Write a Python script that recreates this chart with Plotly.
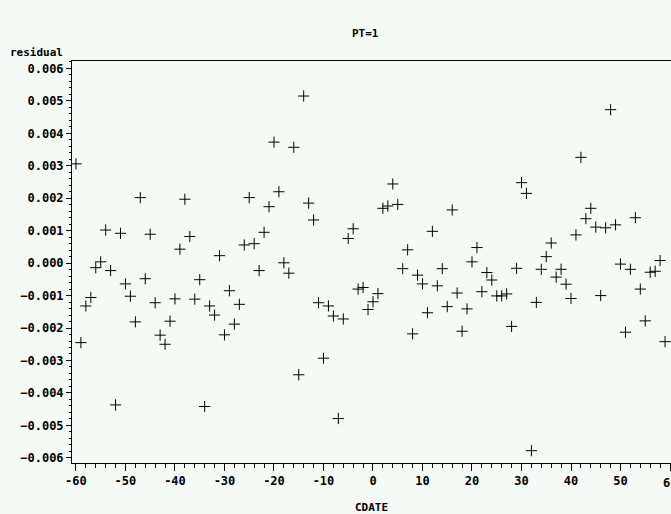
import plotly.graph_objects as go

cdate = list(range(-60, 60))
residual_e3 = [
    3.06, -2.45, -1.32, -1.06, -0.14, 0.04, 1.02, -0.23, -4.37, 0.92,
    -0.64, -1.02, -1.81, 2.02, -0.48, 0.89, -1.22, -2.22, -2.50, -1.79,
    -1.10, 0.43, 1.97, 0.82, -1.11, -0.51, -4.42, -1.32, -1.60, 0.23,
    -2.21, -0.85, -1.88, -1.27, 0.56, 2.02, 0.60, -0.23, 0.95, 1.74,
    3.73, 2.20, 0.01, -0.31, 3.57, -3.44, 5.15, 1.85, 1.33, -1.22,
    -2.93, -1.32, -1.63, -4.79, -1.72, 0.76, 1.06, -0.80, -0.75, -1.43,
    -1.19, -0.94, 1.69, 1.76, 2.44, 1.81, -0.17, 0.41, -2.18, -0.37,
    -0.64, -1.53, 0.98, -0.70, -0.17, -1.34, 1.64, -0.92, -2.10, -1.41,
    0.04, 0.48, -0.88, -0.29, -0.52, -1.01, -1.01, -0.95, -1.95, -0.16,
    2.48, 2.15, -5.78, -1.21, -0.19, 0.20, 0.62, -0.43, -0.19, -0.65,
    -1.09, 0.87, 3.26, 1.37, 1.69, 1.11, -1.00, 1.09, 4.73, 1.18,
    -0.03, -2.13, -0.19, 1.40, -0.80, -1.78, -0.28, -0.25, 0.08, -2.42,
]
residual = [v / 1000.0 for v in residual_e3]

x_ticks = [-60, -50, -40, -30, -20, -10, 0, 10, 20, 30, 40, 50, 60]
y_ticks = [-0.006, -0.005, -0.004, -0.003, -0.002, -0.001, 0.0,
           0.001, 0.002, 0.003, 0.004, 0.005, 0.006]

BG = "#F5FAF6"
FONT = "DejaVu Sans Mono"
L, R, T, B = 72, 0, 61, 51
W, H = 671, 514
pw, ph = W - L - R, H - T - B

fig = go.Figure()
fig.add_trace(go.Scatter(
    x=cdate, y=residual, mode="markers",
    marker=dict(symbol="cross-thin", size=8, color="black",
                line=dict(color="black", width=1)),
    showlegend=False,
))

tick_font = dict(family=FONT, size=12, color="black", weight="bold")

fig.update_layout(
    width=W, height=H,
    margin=dict(l=L, r=R, t=T, b=B),
    paper_bgcolor=BG, plot_bgcolor=BG,
    font=dict(family=FONT, size=11, color="black"),
    xaxis=dict(
        range=[-60.8, 60.2], tickvals=x_ticks,
        ticktext=[str(v) for v in x_ticks],
        showgrid=False, zeroline=False, showline=True, linecolor="black",
        linewidth=1, mirror=True, ticks="outside", ticklen=7, tickwidth=1,
        tickcolor="black", tickfont=tick_font,
        minor=dict(dtick=2, ticks="outside", ticklen=4, tickcolor="black",
                   tickwidth=1, showgrid=False),
        title=dict(text="CDATE", standoff=16,
                   font=dict(family=FONT, size=11, color="black", weight="bold")),
    ),
    yaxis=dict(
        range=[-0.00616, 0.00623], tickvals=y_ticks,
        tickformat=".3f",
        showgrid=False, zeroline=False, showline=True, linecolor="black",
        linewidth=1, mirror=True, ticks="outside", ticklen=5, tickwidth=1,
        tickcolor="black", tickfont=tick_font,
        minor=dict(dtick=0.0002, ticks="outside", ticklen=2, tickcolor="black",
                   tickwidth=1, showgrid=False),
    ),
    annotations=[
        dict(text="PT=1", xref="paper", yref="paper",
             x=(365 - L) / pw, y=(H - B - 33) / ph,
             xanchor="center", yanchor="middle", showarrow=False,
             font=dict(family=FONT, size=11, color="black", weight="bold")),
        dict(text="residual", xref="paper", yref="paper",
             x=(8 - L) / pw, y=(H - B - 52) / ph,
             xanchor="left", yanchor="middle", showarrow=False,
             font=dict(family=FONT, size=11, color="black", weight="bold")),
        dict(text="60", xref="x", yref="paper", x=60,
             y=-(483 - (H - B)) / ph, xanchor="center", yanchor="middle",
             showarrow=False, font=tick_font),
    ],
)

fig.write_html("out.html")
